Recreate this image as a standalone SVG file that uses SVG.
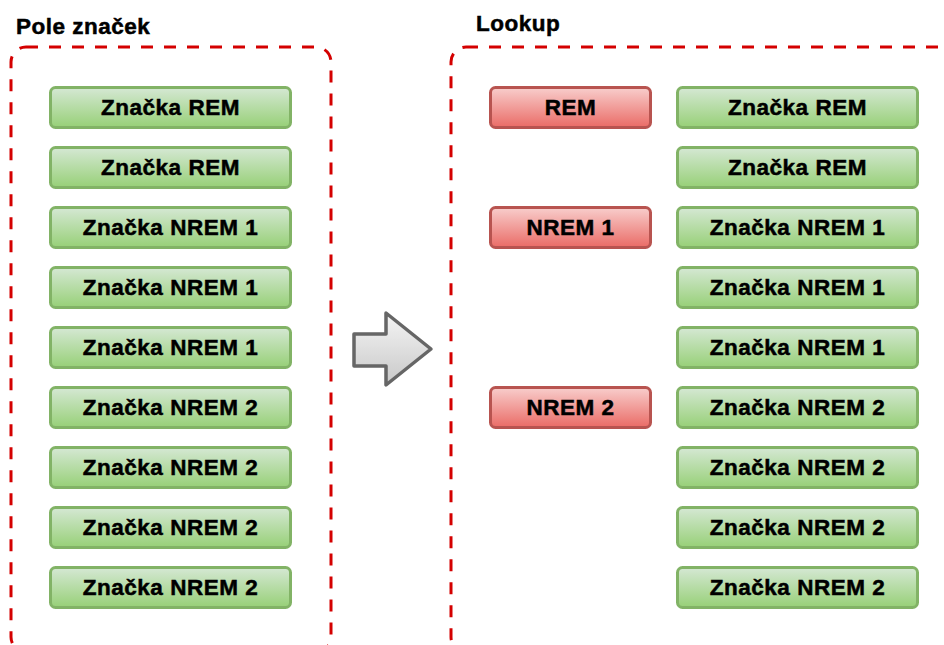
<svg xmlns="http://www.w3.org/2000/svg" width="944" height="645" viewBox="0 0 944 645">
<defs>
<linearGradient id="gG" x1="0" y1="0" x2="0" y2="1"><stop offset="0" stop-color="#d5e8d4"/><stop offset="1" stop-color="#97d077"/></linearGradient>
<linearGradient id="gR" x1="0" y1="0" x2="0" y2="1"><stop offset="0" stop-color="#f8cecc"/><stop offset="1" stop-color="#ea6b66"/></linearGradient>
<linearGradient id="gA" x1="0" y1="0" x2="0" y2="1"><stop offset="0" stop-color="#f5f5f5"/><stop offset="1" stop-color="#c8c8c8"/></linearGradient>
</defs>
<style>
text{font-family:"Liberation Sans",Arial,Helvetica,sans-serif;font-weight:bold;font-size:22.5px;letter-spacing:0.5px;fill:#000;stroke:#000;stroke-width:0.5px}
.c{text-anchor:middle}
.g{fill:url(#gG);stroke:#82b366;stroke-width:3}
.r{fill:url(#gR);stroke:#b85450;stroke-width:3}
.d{fill:none;stroke:#d40000;stroke-width:3;stroke-dasharray:12 11}
</style>
<rect x="0" y="0" width="944" height="645" fill="#fff"/>
<g id="container-pole">
<rect class="d" x="11" y="47" width="320" height="605" rx="15"/>
<text x="16" y="34">Pole značek</text>
</g>
<g id="container-lookup">
<rect class="d" x="451" y="47" width="560" height="605" rx="15"/>
<text x="476" y="31">Lookup</text>
</g>
<g id="left-nodes">
<g id="l1"><rect class="g" x="50.5" y="87.5" width="240" height="40" rx="5"/><text class="c" x="170.5" y="115">Značka REM</text></g>
<g id="l2"><rect class="g" x="50.5" y="147.5" width="240" height="40" rx="5"/><text class="c" x="170.5" y="175">Značka REM</text></g>
<g id="l3"><rect class="g" x="50.5" y="207.5" width="240" height="40" rx="5"/><text class="c" x="170.5" y="235">Značka NREM 1</text></g>
<g id="l4"><rect class="g" x="50.5" y="267.5" width="240" height="40" rx="5"/><text class="c" x="170.5" y="295">Značka NREM 1</text></g>
<g id="l5"><rect class="g" x="50.5" y="327.5" width="240" height="40" rx="5"/><text class="c" x="170.5" y="355">Značka NREM 1</text></g>
<g id="l6"><rect class="g" x="50.5" y="387.5" width="240" height="40" rx="5"/><text class="c" x="170.5" y="415">Značka NREM 2</text></g>
<g id="l7"><rect class="g" x="50.5" y="447.5" width="240" height="40" rx="5"/><text class="c" x="170.5" y="475">Značka NREM 2</text></g>
<g id="l8"><rect class="g" x="50.5" y="507.5" width="240" height="40" rx="5"/><text class="c" x="170.5" y="535">Značka NREM 2</text></g>
<g id="l9"><rect class="g" x="50.5" y="567.5" width="240" height="40" rx="5"/><text class="c" x="170.5" y="595">Značka NREM 2</text></g>
</g>
<g id="lookup-keys">
<g id="k1"><rect class="r" x="490.5" y="87.5" width="160" height="40" rx="5"/><text class="c" x="570.5" y="115">REM</text></g>
<g id="k2"><rect class="r" x="490.5" y="207.5" width="160" height="40" rx="5"/><text class="c" x="570.5" y="235">NREM 1</text></g>
<g id="k3"><rect class="r" x="490.5" y="387.5" width="160" height="40" rx="5"/><text class="c" x="570.5" y="415">NREM 2</text></g>
</g>
<g id="right-nodes">
<g id="r1"><rect class="g" x="677.5" y="87.5" width="240" height="40" rx="5"/><text class="c" x="797.5" y="115">Značka REM</text></g>
<g id="r2"><rect class="g" x="677.5" y="147.5" width="240" height="40" rx="5"/><text class="c" x="797.5" y="175">Značka REM</text></g>
<g id="r3"><rect class="g" x="677.5" y="207.5" width="240" height="40" rx="5"/><text class="c" x="797.5" y="235">Značka NREM 1</text></g>
<g id="r4"><rect class="g" x="677.5" y="267.5" width="240" height="40" rx="5"/><text class="c" x="797.5" y="295">Značka NREM 1</text></g>
<g id="r5"><rect class="g" x="677.5" y="327.5" width="240" height="40" rx="5"/><text class="c" x="797.5" y="355">Značka NREM 1</text></g>
<g id="r6"><rect class="g" x="677.5" y="387.5" width="240" height="40" rx="5"/><text class="c" x="797.5" y="415">Značka NREM 2</text></g>
<g id="r7"><rect class="g" x="677.5" y="447.5" width="240" height="40" rx="5"/><text class="c" x="797.5" y="475">Značka NREM 2</text></g>
<g id="r8"><rect class="g" x="677.5" y="507.5" width="240" height="40" rx="5"/><text class="c" x="797.5" y="535">Značka NREM 2</text></g>
<g id="r9"><rect class="g" x="677.5" y="567.5" width="240" height="40" rx="5"/><text class="c" x="797.5" y="595">Značka NREM 2</text></g>
</g>
<g id="connectors">
<path id="arrow" d="M354,334 L386,334 L386,313 L431,349 L386,385 L386,366 L354,366 Z" fill="url(#gA)" stroke="#666" stroke-width="3.5" stroke-linejoin="round"/>
</g>
</svg>
